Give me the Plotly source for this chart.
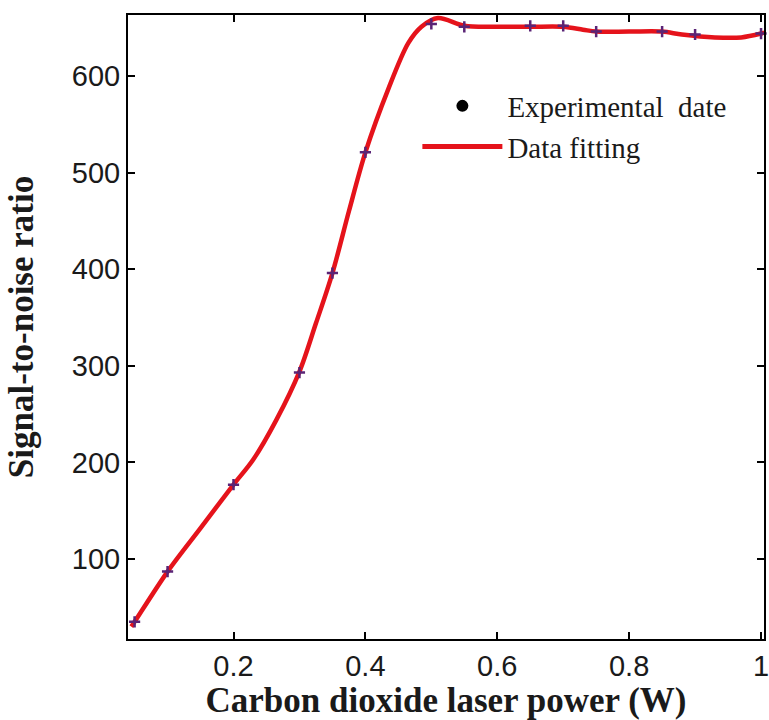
import plotly.graph_objects as go

exp_power = [0.05, 0.1, 0.2, 0.3, 0.35, 0.4, 0.5, 0.55, 0.65, 0.7, 0.75, 0.85, 0.9, 1.0]
exp_snr = [35, 87, 177, 293, 396, 521, 654, 651, 652, 652, 646, 646, 643, 644]

# Fitted curve
fit_power = [0.045, 0.05, 0.1, 0.15, 0.2, 0.23, 0.265, 0.3, 0.325, 0.35, 0.375, 0.4, 0.435,
             0.465, 0.485, 0.51, 0.55, 0.6, 0.65, 0.7, 0.73, 0.75, 0.8, 0.85, 0.88, 0.93, 0.97, 1.0, 1.005]
fit_snr = [30, 35, 87, 132, 177, 203, 244, 294, 344, 396, 460, 521, 587,
           634, 651, 660, 652, 651, 651, 651, 648, 646, 646, 646, 643, 640, 640, 644, 645]

x_ticks = [0.2, 0.4, 0.6, 0.8, 1.0]
x_tick_labels = ["0.2", "0.4", "0.6", "0.8", "1"]
y_ticks = [100, 200, 300, 400, 500, 600]

fig = go.Figure()

fig.add_trace(go.Scatter(
    x=fit_power, y=fit_snr, mode="lines", name="Data fitting",
    line=dict(color="#e5131b", width=4.5, shape="spline", smoothing=0.9),
    showlegend=False,
))
fig.add_trace(go.Scatter(
    x=exp_power, y=exp_snr, mode="markers", name="Experimental  date",
    marker=dict(symbol="cross-thin", size=8, color="#5a2476", line=dict(width=2.5, color="#5a2476")),
    showlegend=False, cliponaxis=False,
))
# legend entries
fig.add_trace(go.Scatter(
    x=[None], y=[None], mode="markers", name="Experimental  date",
    marker=dict(symbol="circle", size=12, color="black"),
))
fig.add_trace(go.Scatter(
    x=[None], y=[None], mode="lines", name="Data fitting",
    line=dict(color="#e5131b", width=5),
))

axis_common = dict(
    showline=True, linecolor="black", linewidth=2, mirror="allticks",
    ticks="inside", ticklen=7, tickwidth=2, tickcolor="black",
    showgrid=False, zeroline=False, ticklabeloverflow="allow",
    tickfont=dict(family="Liberation Sans, Arial", size=29, color="#1a1a1a"),
)

fig.update_layout(
    width=769, height=720,
    margin=dict(l=128, r=0, t=15, b=81),
    paper_bgcolor="white", plot_bgcolor="white",
    xaxis=dict(
        range=[0.04, 1.0045], tickvals=x_ticks, ticktext=x_tick_labels,
        title=dict(text="<b>Carbon dioxide laser power (W)</b>", standoff=6,
                   font=dict(family="Liberation Serif, Times New Roman", size=35, color="#1a1a1a")),
        **axis_common,
    ),
    yaxis=dict(
        range=[17.2, 663.2], tickvals=y_ticks,
        title=dict(text="<b>Signal-to-noise ratio</b>", standoff=28,
                   font=dict(family="Liberation Serif, Times New Roman", size=35, color="#1a1a1a")),
        **axis_common,
    ),
    legend=dict(
        x=0.455, y=0.895, xanchor="left", yanchor="top",
        bgcolor="rgba(0,0,0,0)", borderwidth=0,
        font=dict(family="Liberation Serif, Times New Roman", size=29, color="#1a1a1a"),
        itemwidth=80, tracegroupgap=0,
    ),
)

fig.write_html("out.html")
